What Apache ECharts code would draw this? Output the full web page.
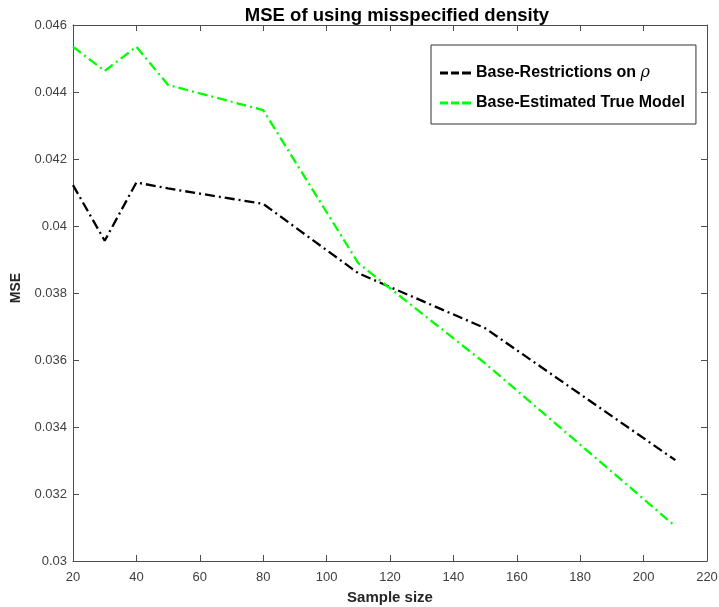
<!DOCTYPE html>
<html><head><meta charset="utf-8">
<script src="https://cdn.jsdelivr.net/npm/echarts@6/dist/echarts.min.js"></script>
<style>html,body{margin:0;padding:0;background:#fff}#c{width:719px;height:607px}</style>
</head><body><div id="c"></div>
<script>
const sampleSizes = [20, 30, 40, 50, 80, 110, 150, 210];
const restrictions = [0.04122, 0.03956, 0.04130, 0.04112, 0.04066, 0.03859, 0.03695, 0.03301];
const trueModel = [0.04535, 0.04463, 0.04535, 0.04421, 0.04346, 0.03889, 0.03590, 0.03104];
const seriesNames = ['Base-Restrictions on ρ', 'Base-Estimated True Model'];
const xTicks = {min: 20, max: 220, step: 20};
const yTicks = {min: 0.030, max: 0.046, step: 0.002};

const font = 'Liberation Sans, Arial, sans-serif';
const axisCol = '#4d4d4d';
const chart = echarts.init(document.getElementById('c'));
const dash = [10, 4, 2, 4];
const legendIcon = 'path://M0,0h8v3h-8z M11,0h8v3h-8z M22,0h9v3h-9z';
function pairs(vals){ return sampleSizes.map((x,i)=>[x, vals[i]]); }
const baseX = {type:'value', min:xTicks.min, max:xTicks.max, interval:xTicks.step,
  axisLine:{show:true, onZero:false, lineStyle:{color:axisCol, width:1}},
  axisTick:{show:true, inside:true, length:6, lineStyle:{color:axisCol}},
  splitLine:{show:false}};
const baseY = {type:'value', min:yTicks.min, max:yTicks.max, interval:yTicks.step,
  axisLine:{show:true, onZero:false, lineStyle:{color:axisCol, width:1}},
  axisTick:{show:true, inside:true, length:6, lineStyle:{color:axisCol}},
  splitLine:{show:false}};
chart.setOption({
  animation:false,
  backgroundColor:'#fff',
  title:{text:'MSE of using misspecified density', left:392, textAlign:'center', top:1,
    textStyle:{fontFamily:font, fontWeight:'bold', fontSize:18.5, color:'#000'}},
  grid:{left:73, right:12, top:25, bottom:46, containLabel:false, outerBoundsMode:'none'},
  legend:{
    left:431, top:45, orient:'vertical', itemGap:12,
    padding:[19,11,12,9], borderColor:'#333', borderWidth:1, backgroundColor:'#fff',
    itemWidth:31, itemHeight:3,
    textStyle:{fontFamily:font, fontWeight:'bold', fontSize:16, color:'#000', lineHeight:18,
      rich:{t:{fontFamily:font, fontWeight:'bold', fontSize:16, color:'#000'},
            r:{fontFamily:'DejaVu Serif, serif', fontStyle:'italic', fontWeight:'normal', fontSize:16, color:'#000'}}},
    formatter:function(name){
      if (name === seriesNames[0]) return '{t|Base-Restrictions on }{r|ρ}';
      return '{t|' + name + '}';
    },
    data:seriesNames.map(n=>({name:n, icon:legendIcon}))
  },
  xAxis:[
    Object.assign({}, baseX, {position:'bottom', name:'Sample size', nameLocation:'middle', nameGap:29,
      nameTextStyle:{fontFamily:font, fontWeight:'bold', fontSize:15, color:'#262626'},
      axisLabel:{fontFamily:font, fontSize:13, color:'#404040', margin:10}}),
    Object.assign({}, baseX, {position:'top', axisLabel:{show:false}})
  ],
  yAxis:[
    Object.assign({}, baseY, {position:'left', name:'MSE', nameLocation:'middle', nameGap:37,
      nameTextStyle:{fontFamily:font, fontWeight:'bold', fontSize:14, color:'#262626', padding:[0,0,0,10]},
      axisLabel:{fontFamily:font, fontSize:13, color:'#404040', margin:6,
        formatter:v=>String(+v.toFixed(3))}}),
    Object.assign({}, baseY, {position:'right', axisLabel:{show:false}})
  ],
  series:[
    {name:seriesNames[0], type:'line', data:pairs(restrictions), symbol:'none', showSymbol:false,
      color:'#000', lineStyle:{color:'#000', width:2.3, type:dash}},
    {name:seriesNames[1], type:'line', data:pairs(trueModel), symbol:'none', showSymbol:false,
      color:'#00ff00', lineStyle:{color:'#00ff00', width:2.3, type:dash}}
  ]
});
</script></body></html>
